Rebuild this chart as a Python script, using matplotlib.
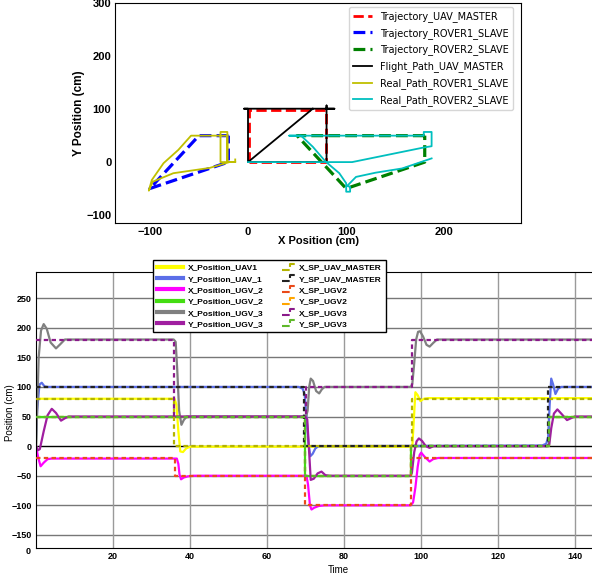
import matplotlib
matplotlib.use('Agg')
import matplotlib.pyplot as plt
from matplotlib.legend_handler import HandlerBase
from matplotlib.lines import Line2D

# ---- top chart: XY paths (cm) ----
traj_uav_x = [1, 1, 79, 79, 1]
traj_uav_y = [0, 98, 98, 0, 0]
traj_r1_x = [-20, -50, -100, -20, -20]
traj_r1_y = [50, 50, -50, 0, 50]
traj_r2_x = [180, 50, 100, 180, 180]
traj_r2_y = [50, 50, -50, 0, 50]
flight_x = [0, 0, -4, 88, 80, 80, 80, 0, 66]
flight_y = [0, 101, 101, 101, 101, 107, 0, 0, 101]
real_r1_x = [-13, -13, -28, -28, -21, -21, -21, -58, -71, -86, -98, -101, -97, -76, -39, -19, -13]
real_r1_y = [5, 0, 0, 57, 57, 0, 50, 50, 23, -2, -34, -54, -37, -21, -11, 0, 0]
real_r2_x = [0, 106, 180, 187, 187, 179, 179, 42, 54, 66, 79, 93, 100, 100, 104, 104, 101, 110, 130, 157, 187]
real_r2_y = [0, 0, 28, 30, 57, 57, 50, 50, 50, 29, 1, -21, -40, -56, -56, -47, -45, -28, -20, -12, 7]

# ---- bottom chart: positions vs time ----
t_x_uav1 = [0, 0.3, 36.0, 36.5, 37.0, 37.5, 38.2, 39.0, 40.0, 97.8, 98.2, 98.6, 99.2, 99.9, 100.8, 102.0, 144.5]
x_uav1 = [0, 80, 80, 70, 25, -9, -10, -4, -1, -1, 45, 91, 86, 76, 80, 81, 81]

t_y_uav1 = [0, 0.3, 0.9, 1.5, 2.2, 3.0, 68.3, 69.3, 69.8, 70.3, 70.8, 71.3, 71.9, 72.6, 73.4,
            131.5, 132.6, 133.1, 133.5, 133.9, 134.4, 135.0, 135.7, 136.5, 144.5]
y_uav1 = [0, 60, 104, 107, 101, 100, 100, 97, 88, 50, 5, -17, -13, -4, 0,
          1, 4, 15, 70, 114, 104, 88, 97, 100, 100]

t_x_ugv2 = [0, 0.6, 1.2, 2.0, 3.0, 4.0, 36.6, 37.0, 37.3, 37.7, 38.4, 39.5, 41.0,
            70.3, 70.7, 71.2, 71.6, 72.3, 73.5, 75.0,
            97.4, 98.0, 98.6, 99.2, 99.7, 100.1, 101.0, 102.3, 103.2, 104.5, 144.5]
x_ugv2 = [0, -20, -34, -28, -22, -21, -21, -30, -48, -56, -53, -51, -50,
          -50, -65, -100, -107, -104, -101, -100,
          -100, -95, -70, -35, -15, -11, -18, -26, -22, -20, -20]

t_x_ugv3 = [0, 0.3, 0.7, 1.3, 2.0, 2.8, 3.8, 5.2, 6.3, 7.5,
            35.8, 36.3, 36.7, 37.2, 37.8, 38.4, 39.2,
            70.2, 70.6, 71.0, 71.4, 72.0, 72.8, 73.6, 74.3, 75.0,
            97.4, 97.8, 98.3, 98.8, 99.3, 99.8, 100.6, 101.5, 102.3, 103.2, 104.2, 144.5]
x_ugv3 = [0, 60, 150, 195, 206, 198, 175, 165, 172, 180,
          180, 176, 130, 60, 36, 44, 50,
          50, 60, 100, 114, 110, 93, 89, 96, 100,
          100, 105, 140, 180, 193, 194, 185, 171, 168, 174, 180, 180]

t_y_ugv3 = [0, 0.5, 1.0, 2.0, 3.0, 4.1, 5.2, 6.5, 7.5, 8.5,
            70.0, 70.5, 70.9, 71.4, 72.2, 73.2, 74.2, 75.2, 76.3,
            97.3, 97.7, 98.3, 98.9, 99.5, 100.3, 101.3, 102.3, 103.3,
            132.8, 133.4, 133.9, 134.6, 135.5, 136.5, 138.0, 139.0, 140.0, 144.5]
y_ugv3 = [0, -7, -5, 25, 52, 63, 56, 43, 47, 50,
          50, 45, 0, -57, -55, -46, -43, -49, -50,
          -50, -45, -10, 8, 13, 9, 0, -3, 0,
          0, 3, 30, 55, 62, 55, 44, 47, 50, 50]

# setpoints (step signals)
t_sp_x_uav = [0, 35.9, 97.6, 144.5]
sp_x_uav = [80, 0, 80, 80]
t_sp_y_uav = [0, 69.6, 133.0, 144.5]
sp_y_uav = [100, 0, 100, 100]
t_sp_x_ugv2 = [0, 36.1, 69.8, 97.4, 144.5]
sp_x_ugv2 = [-20, -50, -100, -20, -20]
t_sp_y_ugv2 = [0, 70.0, 97.5, 133.3, 144.5]
sp_y_ugv2 = [50, -50, 0, 50, 50]
t_sp_x_ugv3 = [0, 35.8, 70.2, 97.6, 144.5]
sp_x_ugv3 = [180, 50, 100, 180, 180]
t_sp_y_ugv3 = [0, 70.0, 97.5, 133.3, 144.5]
sp_y_ugv3 = [50, -50, 0, 50, 50]
# Y_Position_UGV_2 sits under the UGV3 Y trace
t_y_ugv2 = t_sp_y_ugv2
y_ugv2 = sp_y_ugv2


class StepHandler(HandlerBase):
    def create_artists(self, legend, orig_handle, xdescent, ydescent, width, height, fontsize, trans):
        x0 = -xdescent + 0.5 * width
        xs = [x0, x0 + 0.3 * width, x0 + 0.3 * width, x0 + 0.5 * width]
        ys = [-ydescent, -ydescent, -ydescent + height, -ydescent + height]
        ln = Line2D(xs, ys, color=orig_handle.get_color(), lw=1.5,
                    linestyle=orig_handle.get_linestyle())
        ln.set_transform(trans)
        return [ln]


fig = plt.figure(figsize=(5.92, 5.76), dpi=100)

# ---------------- top chart ----------------
ax1 = fig.add_axes([0.195, 0.613, 0.685, 0.381])
ax1.plot(traj_uav_x, traj_uav_y, 'r--', lw=2, label='Trajectory_UAV_MASTER')
ax1.plot(traj_r1_x, traj_r1_y, 'b--', lw=2.3, label='Trajectory_ROVER1_SLAVE')
ax1.plot(traj_r2_x, traj_r2_y, 'g--', lw=2.3, label='Trajectory_ROVER2_SLAVE')
ax1.plot(flight_x, flight_y, 'k', lw=1.3, label='Flight_Path_UAV_MASTER')
ax1.plot(real_r1_x, real_r1_y, 'y', lw=1.3, label='Real_Path_ROVER1_SLAVE')
ax1.plot(real_r2_x, real_r2_y, 'c', lw=1.3, label='Real_Path_ROVER2_SLAVE')
ax1.set_xlim(-135, 278)
ax1.set_ylim(-115, 300)
ax1.set_xticks([-100, 0, 100, 200])
ax1.set_yticks([-100, 0, 100, 200, 300])
for lab in ax1.get_xticklabels() + ax1.get_yticklabels():
    lab.set_fontfamily('Liberation Sans')
    lab.set_fontweight('bold')
    lab.set_fontsize(8)
ax1.tick_params(length=0, pad=3)
ax1.set_xlabel('X Position (cm)', fontsize=8, fontweight='bold', family='Liberation Sans', labelpad=-1)
ax1.set_ylabel('Y Position (cm)', fontsize=8.5, fontweight='bold', family='Liberation Sans', labelpad=1)
ax1.legend(loc='upper right', bbox_to_anchor=(0.98, 0.983), borderaxespad=0,
           fontsize=7, labelspacing=0.6)

# ---------------- bottom chart ----------------
ax2 = fig.add_axes([0.0608, 0.0486, 0.9392, 0.4792])
for y in [-150, -100, -50, 50, 100, 150, 200, 250]:
    ax2.axhline(y, color='#777777', lw=1, zorder=0)
for x in [20, 40, 60, 80, 100, 120, 140]:
    ax2.axvline(x, color='#9a9a9a', lw=1, zorder=0)
ax2.axhline(0, color='black', lw=1, zorder=0)

h_sp_y_ugv2, = ax2.plot(t_sp_y_ugv2, sp_y_ugv2, drawstyle='steps-post', color='#ffa500', lw=1.6,
                        linestyle=(0, (2, 1.5)), zorder=1)
h_y_ugv2, = ax2.plot(t_y_ugv2, y_ugv2, drawstyle='steps-post', color='#44dd11', lw=1.6, zorder=1)
h_x_uav1, = ax2.plot(t_x_uav1, x_uav1, color='#ffff00', lw=1.6, zorder=2)
h_y_uav1, = ax2.plot(t_y_uav1, y_uav1, color='#5b6ee8', lw=1.6, zorder=2)
h_x_ugv2, = ax2.plot(t_x_ugv2, x_ugv2, color='#ff00ff', lw=1.6, zorder=2)
h_x_ugv3, = ax2.plot(t_x_ugv3, x_ugv3, color='#808080', lw=1.6, zorder=2)
h_y_ugv3, = ax2.plot(t_y_ugv3, y_ugv3, color='#a01ea0', lw=1.6, zorder=2)

dash = (0, (2, 1.5))
h_sp_x_uav, = ax2.plot(t_sp_x_uav, sp_x_uav, drawstyle='steps-post', color='#b4b400', lw=1.6,
                       linestyle=dash, zorder=3)
h_sp_y_uav, = ax2.plot(t_sp_y_uav, sp_y_uav, drawstyle='steps-post', color='#222222', lw=1.6,
                       linestyle=dash, zorder=3)
h_sp_x_ugv2, = ax2.plot(t_sp_x_ugv2, sp_x_ugv2, drawstyle='steps-post', color='#ea4a1a', lw=1.6,
                        linestyle=dash, zorder=3)
h_sp_x_ugv3, = ax2.plot(t_sp_x_ugv3, sp_x_ugv3, drawstyle='steps-post', color='#8a1a8a', lw=1.6,
                        linestyle=dash, zorder=3)
h_sp_y_ugv3, = ax2.plot(t_sp_y_ugv3, sp_y_ugv3, drawstyle='steps-post', color='#5fb82a', lw=1.6,
                        linestyle=dash, zorder=3)

ax2.set_xlim(0, 144.5)
ax2.set_ylim(-172, 294)
ax2.set_xticks([20, 40, 60, 80, 100, 120, 140])
ax2.set_yticks([-150, -100, -50, 0, 50, 100, 150, 200, 250])
for lab in ax2.get_xticklabels() + ax2.get_yticklabels():
    lab.set_fontfamily('Liberation Sans')
    lab.set_fontweight('bold')
    lab.set_fontsize(6.5)
ax2.tick_params(length=0, pad=3)
ax2.text(-0.0144, -0.012, '0', transform=ax2.transAxes, ha='center', va='center',
         fontsize=6.5, fontweight='bold', family='Liberation Sans')
ax2.set_xlabel('Time', fontsize=7, family='Liberation Sans')
ax2.xaxis.set_label_coords(0.543, -0.062)
ax2.set_ylabel('Position (cm)', fontsize=7, family='Liberation Sans')
ax2.yaxis.set_label_coords(-0.037, 0.49)
ax2.spines['right'].set_visible(False)

handles = [h_x_uav1, h_y_uav1, h_x_ugv2, h_y_ugv2, h_x_ugv3, h_y_ugv3,
           h_sp_x_uav, h_sp_y_uav, h_sp_x_ugv2, h_sp_y_ugv2, h_sp_x_ugv3, h_sp_y_ugv3]
labels = ['X_Position_UAV1', 'Y_Position_UAV_1', 'X_Position_UGV_2', 'Y_Position_UGV_2',
          'X_Position_UGV_3', 'Y_Position_UGV_3',
          'X_SP_UAV_MASTER', 'Y_SP_UAV_MASTER', 'X_SP_UGV2', 'Y_SP_UGV2', 'X_SP_UGV3', 'Y_SP_UGV3']
solid_proxy = [Line2D([], [], color=h.get_color(), lw=3) for h in handles[:6]]
leg_handles = solid_proxy + handles[6:]
hmap = {h: StepHandler() for h in handles[6:]}
leg = ax2.legend(leg_handles, labels, ncol=2, loc='upper left', bbox_to_anchor=(0.2104, 1.0435),
                 borderaxespad=0, handler_map=hmap, handlelength=3.2, handletextpad=0.5,
                 columnspacing=0.6, labelspacing=0.42, fancybox=False, edgecolor='black',
                 framealpha=1, borderpad=0.45,
                 prop={'family': 'Liberation Sans', 'weight': 'bold', 'size': 6})
leg.get_frame().set_linewidth(1)
leg.set_zorder(10)

plt.savefig('out.png', dpi=100)
